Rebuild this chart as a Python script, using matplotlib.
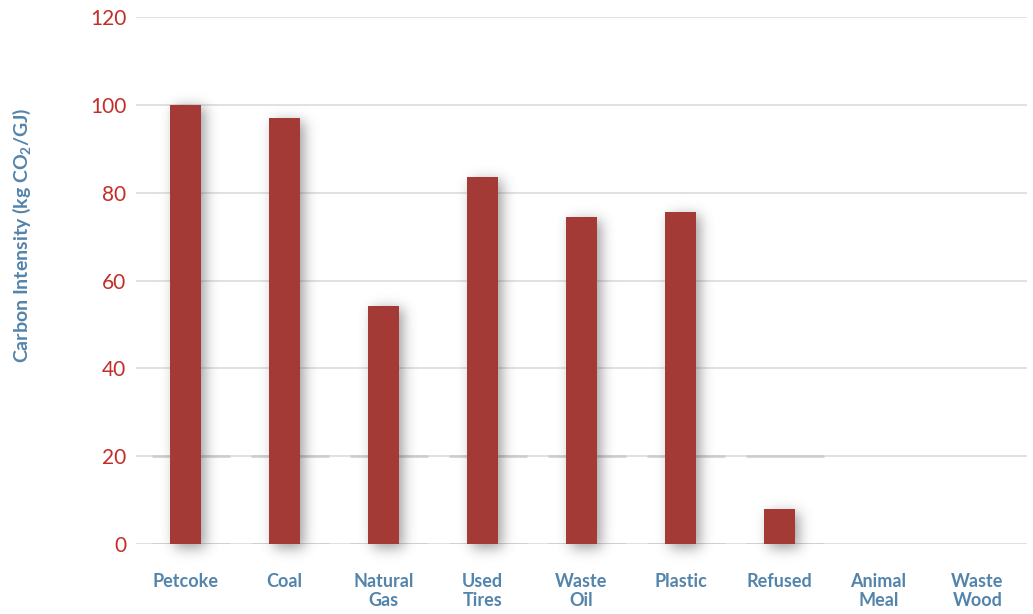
import numpy as np
import matplotlib
matplotlib.use("Agg")
import matplotlib.pyplot as plt

# Carbon intensity of kiln fuels (kg CO2 / GJ)
fuels = ["Petcoke", "Coal", "Natural\nGas", "Used\nTires", "Waste\nOil",
         "Plastic", "Refused", "Animal\nMeal", "Waste\nWood"]
intensity = [100.0, 97.0, 54.3, 83.6, 74.5, 75.6, 8.0, 0.0, 0.0]
y_ticks = [0, 20, 40, 60, 80, 100, 120]

bar_color = "#a33a35"
tick_red = "#c22e28"
label_blue = "#5384ab"
grid_gray = "#dcdcdc"

plt.rcParams["font.family"] = ["Lato", "DejaVu Sans"]
plt.rcParams["mathtext.fontset"] = "custom"
plt.rcParams["mathtext.rm"] = "Lato:bold"
plt.rcParams["mathtext.it"] = "Lato:bold"
plt.rcParams["mathtext.bf"] = "Lato:bold"

W, H = 1033, 614
fig = plt.figure(figsize=(W / 100, H / 100), dpi=100)
ax = fig.add_axes([136 / W, 1 - 544.3 / H, 891 / W, 527.5 / H])

x = np.arange(len(fuels))
bar_w = 0.31
ax.set_xlim(-0.5, len(fuels) - 0.5)
ax.set_ylim(0, 120)

# gridlines
for yv in y_ticks:
    ax.axhline(yv, color=grid_gray, lw=1.2, zorder=0)

# darker strips on the lower gridlines under the filled categories
for i, v in enumerate(intensity):
    if v > 0:
        for yv in (0, 20):
            ax.hlines(yv, i - 0.34, i + 0.45, color="#cccccc", lw=1.8, zorder=0.5)

# soft drop shadow behind the bars, rendered as a blurred alpha mask
px_x = 891 / (len(fuels))          # pixels per category
px_y = 527.5 / 120                 # pixels per unit
y_lo, y_hi = -12, 120
nx, ny = 891, int((y_hi - y_lo) * px_y)
mask = np.zeros((ny, nx))
dx_off, dy_off = 5, 4
for i, v in enumerate(intensity):
    if v <= 0:
        continue
    x0 = int((i + 0.5 - bar_w / 2) * px_x) + dx_off
    x1 = int((i + 0.5 + bar_w / 2) * px_x) + dx_off
    r0 = int((y_hi - v) * px_y) + dy_off
    r1 = int((y_hi - 0) * px_y) + dy_off
    mask[r0:r1, x0:x1] = 1.0

sigma = 6.5
k = np.arange(-22, 23)
kern = np.exp(-k ** 2 / (2 * sigma ** 2))
kern /= kern.sum()
mask = np.apply_along_axis(lambda r: np.convolve(r, kern, mode="same"), 1, mask)
mask = np.apply_along_axis(lambda c: np.convolve(c, kern, mode="same"), 0, mask)
shadow = np.zeros((ny, nx, 4))
shadow[..., :3] = 0.3
shadow[..., 3] = mask * 0.55
ax.imshow(shadow, extent=(-0.5, len(fuels) - 0.5, y_lo, y_hi), aspect="auto",
          zorder=1, clip_on=False, interpolation="bilinear")
ax.set_xlim(-0.5, len(fuels) - 0.5)
ax.set_ylim(0, 120)

ax.bar(x, intensity, width=bar_w, color=bar_color, zorder=2)

for s in ax.spines.values():
    s.set_visible(False)
ax.set_yticks(y_ticks)
ax.set_yticklabels([str(t) for t in y_ticks], color=tick_red, fontsize=15)
ax.set_xticks(x)
ax.set_xticklabels(fuels, color=label_blue, fontsize=13, fontweight="bold",
                   linespacing=1.1, va="top")
ax.tick_params(axis="y", length=0, pad=7)
ax.tick_params(axis="x", length=0, pad=21)

fig.text(22 / W, 1 - 235 / H, r"Carbon Intensity (kg CO$_2$/GJ)", rotation=90,
         color=label_blue, fontsize=14, fontweight="bold",
         ha="center", va="center")

fig.savefig("out.png", dpi=100, facecolor="white")
